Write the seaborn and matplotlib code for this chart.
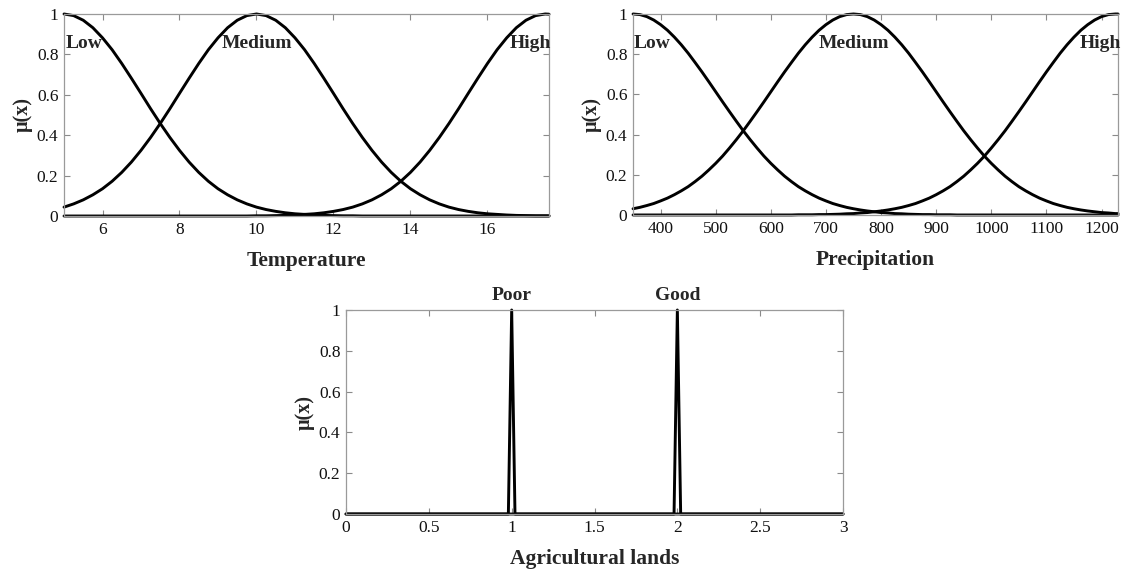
import matplotlib
matplotlib.use("Agg")
import matplotlib.pyplot as plt
import numpy as np
import pandas as pd
import seaborn as sns
from matplotlib.ticker import FuncFormatter

# ---------------- data ----------------
temp_x = [5.0, 5.25, 5.5, 5.75, 6.0, 6.25, 6.5, 6.75, 7.0, 7.25, 7.5, 7.75, 8.0, 8.25,
          8.5, 8.75, 9.0, 9.25, 9.5, 9.75, 10.0, 10.25, 10.5, 10.75, 11.0, 11.25, 11.5,
          11.75, 12.0, 12.25, 12.5, 12.75, 13.0, 13.25, 13.5, 13.75, 14.0, 14.25, 14.5,
          14.75, 15.0, 15.25, 15.5, 15.75, 16.0, 16.25, 16.5, 16.75, 17.0, 17.25, 17.5, 17.6]
temp_low = [1, .992, .969, .932, .882, .823, .755, .682, .607, .531, .458, .389, .325,
            .267, .216, .172, .135, .105, .080, .060, .044, .032, .023, .016, .011, .008,
            .005, .003, .002, .001, .001,
            0, 0, 0, 0, 0, 0, 0, 0, 0, 0, 0, 0, 0, 0, 0, 0, 0, 0, 0, 0, 0]
temp_medium = [.044, .060, .080, .105, .135, .172, .216, .267, .325, .389, .458, .531,
               .607, .682, .755, .823, .882, .932, .969, .992, 1,
               .992, .969, .932, .882, .823, .755, .682, .607, .531, .458, .389, .325,
               .267, .216, .172, .135, .105, .080, .060, .044, .032, .023, .016, .011,
               .008, .005, .003, .002, .001, .001, .001]
temp_high = [0, 0, 0, 0, 0, 0, 0, 0, 0, 0, 0, 0, 0, 0, 0, 0, 0, 0, 0, 0,
             .001, .001, .002, .003, .005, .008, .011, .016, .023, .032, .044, .060,
             .080, .105, .135, .172, .216, .267, .325, .389, .458, .531, .607, .682,
             .755, .823, .882, .932, .969, .992, 1, .999]

prec_x = [350, 362.5, 375, 387.5, 400, 412.5, 425, 437.5, 450, 462.5, 475, 487.5,
          500, 512.5, 525, 537.5, 550, 562.5, 575, 587.5, 600, 612.5, 625, 637.5,
          650, 662.5, 675, 687.5, 700, 712.5, 725, 737.5, 750, 762.5, 775, 787.5,
          800, 812.5, 825, 837.5, 850, 862.5, 875, 887.5, 900, 912.5, 925, 937.5,
          950, 962.5, 975, 987.5, 1000, 1012.5, 1025, 1037.5, 1050, 1062.5, 1075, 1087.5,
          1100, 1112.5, 1125, 1137.5, 1150, 1162.5, 1175, 1187.5, 1200, 1212.5, 1225, 1230]
prec_low = [1, .997, .987, .970, .947, .919, .885, .847, .805, .759, .712, .663, .613,
            .563, .514, .466, .419, .375, .333, .293, .257, .224, .193, .166, .141, .120,
            .101, .084, .070, .057, .047, .038, .031, .025, .020, .016, .012, .010, .007,
            .006, .004, .003, .002, .002, .001, .001, .001,
            0, 0, 0, 0, 0, 0, 0, 0, 0, 0, 0, 0, 0, 0, 0, 0, 0, 0, 0, 0, 0, 0, 0, 0, 0]
prec_medium = [.031, .038, .047, .057, .070, .084, .101, .120, .141, .166, .193, .224,
               .257, .293, .333, .375, .419, .466, .514, .563, .613, .663, .712, .759,
               .805, .847, .885, .919, .947, .970, .987, .997, 1,
               .997, .987, .970, .947, .919, .885, .847, .805, .759, .712, .663, .613,
               .563, .514, .466, .419, .375, .333, .293, .257, .224, .193, .166, .141,
               .120, .101, .084, .070, .057, .047, .038, .031, .025, .020, .016, .012,
               .010, .007, .007]
prec_high = [0, 0, 0, 0, 0, 0, 0, 0, 0, 0, 0, 0, 0, 0, 0, 0, 0, 0, 0, 0, 0, 0, 0, 0,
             .001, .001, .001, .002, .002, .003, .004, .006, .007, .010, .012, .016,
             .020, .025, .031, .038, .047, .057, .070, .084, .101, .120, .141, .166,
             .193, .224, .257, .293, .333, .375, .419, .466, .514, .563, .613, .663,
             .712, .759, .805, .847, .885, .919, .947, .970, .987, .997, 1, 1]

agri_x = [0, 0.98, 1.0, 1.02, 1.98, 2.0, 2.02, 3]
agri_poor = [0, 0, 1, 0, 0, 0, 0, 0]
agri_good = [0, 0, 0, 0, 0, 1, 0, 0]

temp_labels = ["Low", "Medium", "High"]
prec_labels = ["Low", "Medium", "High"]
agri_labels = ["Poor", "Good"]

# ---------------- styling ----------------
sns.set_style("ticks")
plt.rcParams["font.family"] = ["Liberation Serif", "DejaVu Serif"]
plt.rcParams["axes.edgecolor"] = "#9a9a9a"
plt.rcParams["axes.linewidth"] = 0.9

fig = plt.figure(figsize=(11.23, 5.71), dpi=100)
ax1 = fig.add_axes([0.0570, 0.6217, 0.4319, 0.3538])
ax2 = fig.add_axes([0.5637, 0.6235, 0.4319, 0.3520])
ax3 = fig.add_axes([0.3081, 0.0998, 0.4426, 0.3573])

fmt = FuncFormatter(lambda v, p: f"{v:g}")


def long_df(x, series, names):
    frames = []
    for name, ys in zip(names, series):
        frames.append(pd.DataFrame({"x": x, "mu": ys, "set": name}))
    return pd.concat(frames, ignore_index=True)


def style_axis(ax, xlim, xticks, xlabel):
    ax.set_xlim(*xlim)
    ax.set_ylim(0, 1)
    ax.set_xticks(xticks)
    ax.set_yticks([0, 0.2, 0.4, 0.6, 0.8, 1])
    ax.xaxis.set_major_formatter(fmt)
    ax.yaxis.set_major_formatter(fmt)
    ax.tick_params(direction="in", length=4, width=0.8, color="#8a8a8a",
                   top=True, right=True, labelsize=12.5, labelcolor="#111111", pad=4)
    ax.set_xlabel(xlabel, fontsize=15.5, fontweight="bold", labelpad=10)
    ax.set_ylabel("μ(x)", fontsize=14.5, fontweight="bold", labelpad=3)
    for s in ax.spines.values():
        s.set_visible(True)


pal3 = ["black", "black", "black"]
lab_kw = dict(fontsize=14, fontweight="bold", va="center")

df1 = long_df(temp_x, [temp_low, temp_medium, temp_high], temp_labels)
sns.lineplot(data=df1, x="x", y="mu", hue="set", palette=pal3, legend=False,
             ax=ax1, lw=2.1, clip_on=False)
style_axis(ax1, (5, 17.6), [6, 8, 10, 12, 14, 16], "Temperature")
ax1.text(5.03, 0.855, "Low", ha="left", **lab_kw)
ax1.text(10.0, 0.855, "Medium", ha="center", **lab_kw)
ax1.text(17.65, 0.855, "High", ha="right", **lab_kw)

df2 = long_df(prec_x, [prec_low, prec_medium, prec_high], prec_labels)
sns.lineplot(data=df2, x="x", y="mu", hue="set", palette=pal3, legend=False,
             ax=ax2, lw=2.1, clip_on=False)
style_axis(ax2, (350, 1230), list(range(400, 1201, 100)), "Precipitation")
ax2.text(352, 0.855, "Low", ha="left", **lab_kw)
ax2.text(751, 0.855, "Medium", ha="center", **lab_kw)
ax2.text(1236, 0.855, "High", ha="right", **lab_kw)

df3 = long_df(agri_x, [agri_poor, agri_good], agri_labels)
sns.lineplot(data=df3, x="x", y="mu", hue="set", palette=["black", "black"], legend=False,
             ax=ax3, lw=2.1, clip_on=False)
style_axis(ax3, (0, 3), [0, 0.5, 1, 1.5, 2, 2.5, 3], "Agricultural lands")
ax3.text(1.0, 1.03, "Poor", ha="center", va="bottom", fontsize=14, fontweight="bold")
ax3.text(2.0, 1.03, "Good", ha="center", va="bottom", fontsize=14, fontweight="bold")

fig.savefig("out.png", dpi=100)
